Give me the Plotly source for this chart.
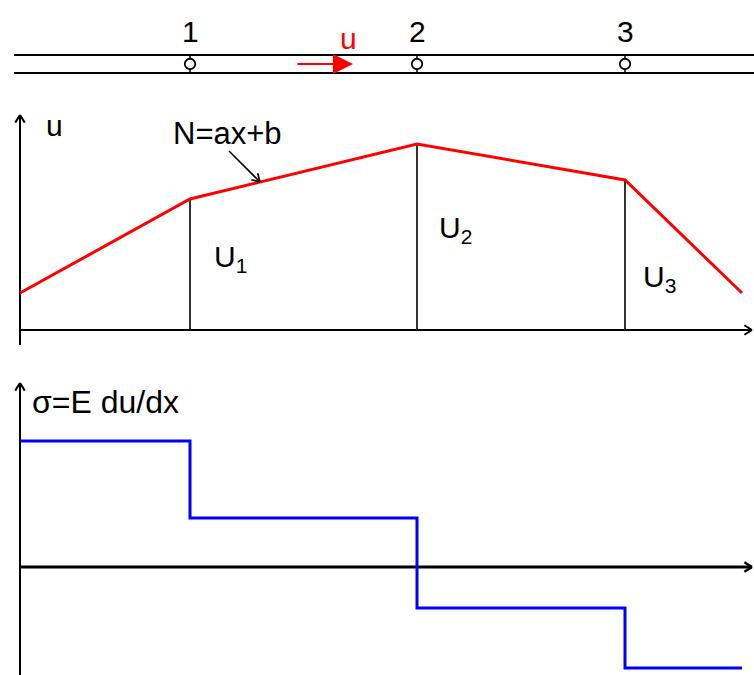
import math
import plotly.graph_objects as go

# --- data -----------------------------------------------------------------
node_labels = ["1", "2", "3"]
x_nodes = [170, 397, 605]                  # node positions along the bar
x_curve = [0, 170, 397, 605, 722]          # interpolation points of u(x)
u_values = [37, 131, 186, 150, 37]         # displacement at those points
u_node_labels = ["U<sub>1</sub>", "U<sub>2</sub>", "U<sub>3</sub>"]
sigma_edges = [0, 170, 397, 605, 722]      # element boundaries
sigma_values = [126, 49, -41, -101]        # constant stress per element

FONT = "Liberation Sans, Arial, sans-serif"
BLACK = "#000000"
RED = "#ff0000"
BLUE = "#0000ff"

X_END = 732   # right tip of the horizontal axes
fig = go.Figure()


def seg(x0, y0, x1, y1, yaxis, color=BLACK, width=2):
    fig.add_trace(go.Scatter(x=[x0, x1], y=[y0, y1], mode="lines", yaxis=yaxis,
                             line=dict(color=color, width=width),
                             hoverinfo="skip", showlegend=False))


def open_head(xt, yt, dx, dy, yaxis, length=9, spread=32, width=2):
    """Open V arrowhead at (xt, yt) pointing along (dx, dy)."""
    ang = math.atan2(dy, dx)
    xs, ys = [], []
    for s in (spread, -spread):
        a = ang + math.pi - math.radians(s)
        xs += [xt + length * math.cos(a), xt, None]
        ys += [yt + length * math.sin(a), yt, None]
    fig.add_trace(go.Scatter(x=xs, y=ys, mode="lines", yaxis=yaxis,
                             line=dict(color=BLACK, width=width),
                             hoverinfo="skip", showlegend=False))


# --- top: the bar with its nodes -----------------------------------------
for yy in (9, -9):
    seg(-6, yy, 734, yy, "y", width=2.2)
for xn in x_nodes:
    seg(xn, 9, xn, 5.5, "y", width=1.5)
    seg(xn, -5.5, xn, -9, "y", width=1.5)
fig.add_trace(go.Scatter(x=x_nodes, y=[0] * len(x_nodes), mode="markers", yaxis="y",
                         marker=dict(symbol="circle", size=10.5, color="white",
                                     line=dict(color=BLACK, width=1.8)),
                         hoverinfo="skip", showlegend=False))
for xn, lab in zip(x_nodes, node_labels):
    fig.add_annotation(x=xn, y=33, xref="x", yref="y", text=lab, showarrow=False,
                       font=dict(family=FONT, size=30, color=BLACK))
fig.add_annotation(x=333, y=0, ax=276, ay=0, xref="x", yref="y", axref="x", ayref="y",
                   text="", showarrow=True, arrowhead=2, arrowsize=2,
                   arrowwidth=2, arrowcolor=RED, standoff=0)
fig.add_annotation(x=328, y=26, xref="x", yref="y", text="u", showarrow=False,
                   font=dict(family=FONT, size=30, color=RED))

# --- middle: displacement u(x) -------------------------------------------
seg(0, -15, 0, 215, "y2", width=2)
open_head(0, 215, 0, 1, "y2")
seg(0, 0, X_END, 0, "y2", width=2)
open_head(X_END, 0, 1, 0, "y2")
for xn, un in zip(x_curve[1:4], u_values[1:4]):
    seg(xn, 0, xn, un, "y2", width=1.6)
fig.add_trace(go.Scatter(x=x_curve, y=u_values, mode="lines", yaxis="y2",
                         line=dict(color=RED, width=3),
                         hoverinfo="skip", showlegend=False))
fig.add_annotation(x=34, y=205, xref="x", yref="y2", text="u", showarrow=False,
                   font=dict(family=FONT, size=30, color=BLACK))
fig.add_annotation(x=207, y=197, xref="x", yref="y2", text="N=ax+b", showarrow=False,
                   font=dict(family=FONT, size=31, color=BLACK))
seg(209, 179, 240, 148, "y2", width=1.6)
open_head(240, 148, 31, -31, "y2", length=9, spread=30, width=1.6)
for xn, lab, dx, dy in zip(x_nodes, u_node_labels, [22, 20, 16], [72, 101, 52]):
    fig.add_annotation(x=xn + dx, y=dy, xref="x", yref="y2", text=lab, showarrow=False,
                       xanchor="left", font=dict(family=FONT, size=30, color=BLACK))

# --- bottom: stress sigma = E du/dx --------------------------------------
seg(0, -108, 0, 184, "y3", width=2)
open_head(0, 184, 0, 1, "y3")
seg(0, 0, X_END, 0, "y3", width=3)
open_head(X_END, 0, 1, 0, "y3", width=2.5)
fig.add_trace(go.Scatter(x=sigma_edges, y=sigma_values + [sigma_values[-1]],
                         mode="lines", line_shape="hv", yaxis="y3",
                         line=dict(color=BLUE, width=3),
                         hoverinfo="skip", showlegend=False))
fig.add_annotation(x=10, y=165, xref="x", yref="y3", text="σ=E du/dx", showarrow=False,
                   xanchor="left", font=dict(family=FONT, size=32, color=BLACK))

H = 675.0
hidden = dict(visible=False, fixedrange=True)
fig.update_layout(
    width=754, height=675,
    margin=dict(l=0, r=0, t=0, b=0),
    paper_bgcolor="white", plot_bgcolor="white",
    showlegend=False,
    xaxis=dict(range=[-20, 734], domain=[0, 1], **hidden),
    yaxis=dict(range=[-31, 64], domain=[580 / H, 1], **hidden),
    yaxis2=dict(range=[-15, 230], domain=[330 / H, 575 / H], **hidden),
    yaxis3=dict(range=[-108, 192], domain=[0, 300 / H], **hidden),
)

fig.write_html("out.html")
